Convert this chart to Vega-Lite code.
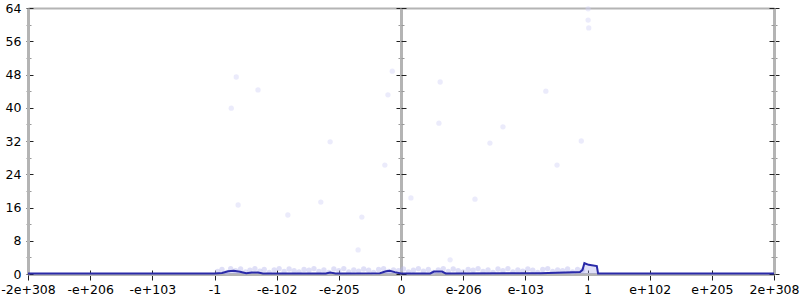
{
  "$schema": "https://vega.github.io/schema/vega-lite/v6.json",
  "width": 746,
  "height": 266,
  "autosize": {"type": "none"},
  "padding": {"left": 28, "top": 8, "right": 26, "bottom": 26},
  "background": "white",
  "config": {
    "view": {"stroke": null},
    "axis": {"labelFont": "DejaVu Sans", "labelFontSize": 12.5, "labelColor": "#000", "grid": false, "title": null, "domainColor": "#b4b4b4", "domainWidth": 3, "tickColor": "#222", "tickWidth": 1}
  },
  "datasets": {
    "line": [
      {"u": -6, "v": 0.15}, {"u": -3.0, "v": 0.15}, {"u": -2.88, "v": 0.25}, {"u": -2.78, "v": 0.65}, {"u": -2.69, "v": 0.8}, {"u": -2.59, "v": 0.55},
      {"u": -2.49, "v": 0.2}, {"u": -2.4, "v": 0.35}, {"u": -2.3, "v": 0.35}, {"u": -2.22, "v": 0.15}, {"u": -1.62, "v": 0.15}, {"u": -1.21, "v": 0.15},
      {"u": -1.14, "v": 0.35}, {"u": -1.05, "v": 0.15}, {"u": -0.34, "v": 0.2}, {"u": -0.24, "v": 0.65}, {"u": -0.18, "v": 0.8}, {"u": -0.1, "v": 0.45},
      {"u": 0, "v": 0.15}, {"u": 0.47, "v": 0.15}, {"u": 0.53, "v": 0.6}, {"u": 0.66, "v": 0.6}, {"u": 0.72, "v": 0.15}, {"u": 2.24, "v": 0.2},
      {"u": 2.88, "v": 0.5}, {"u": 2.92, "v": 1.0}, {"u": 2.95, "v": 2.6}, {"u": 3.02, "v": 2.2}, {"u": 3.15, "v": 1.9}, {"u": 3.17, "v": 0.15}, {"u": 6, "v": 0.15}
    ],
    "pts": [
      {"u": -2.65, "v": 47.4}, {"u": -2.3, "v": 44.3}, {"u": -2.73, "v": 39.9}, {"u": -1.14, "v": 31.8}, {"u": -0.26, "v": 26.2},
      {"u": -0.14, "v": 48.8}, {"u": -0.21, "v": 43.1}, {"u": -2.62, "v": 16.6}, {"u": -1.29, "v": 17.3}, {"u": -1.82, "v": 14.2},
      {"u": -0.63, "v": 13.7}, {"u": -0.69, "v": 5.8}, {"u": 3.01, "v": 63.8}, {"u": 3.01, "v": 61.1}, {"u": 3.02, "v": 59.2},
      {"u": 0.63, "v": 46.2}, {"u": 2.33, "v": 44.0}, {"u": 0.61, "v": 36.3}, {"u": 1.64, "v": 35.4}, {"u": 1.43, "v": 31.5},
      {"u": 2.9, "v": 32.0}, {"u": 2.51, "v": 26.2}, {"u": 0.16, "v": 18.3}, {"u": 1.19, "v": 18.0}, {"u": 0.79, "v": 3.4}
    ],
    "band": [
      {"u": -2.95, "v": 0.6}, {"u": -2.88, "v": 1.1}, {"u": -2.8, "v": 0.4}, {"u": -2.74, "v": 1.3}, {"u": -2.66, "v": 0.8}, {"u": -2.58, "v": 1.2},
      {"u": -2.5, "v": 0.5}, {"u": -2.43, "v": 0.9}, {"u": -2.35, "v": 1.3}, {"u": -2.27, "v": 0.7}, {"u": -2.2, "v": 1.1}, {"u": -2.12, "v": 0.4},
      {"u": -2.04, "v": 1.0}, {"u": -1.96, "v": 1.3}, {"u": -1.88, "v": 0.6}, {"u": -1.8, "v": 1.2}, {"u": -1.72, "v": 0.8}, {"u": -1.64, "v": 0.5},
      {"u": -1.56, "v": 1.1}, {"u": -1.48, "v": 0.9}, {"u": -1.4, "v": 1.3}, {"u": -1.32, "v": 0.6}, {"u": -1.24, "v": 1.0}, {"u": -1.16, "v": 0.4},
      {"u": -1.08, "v": 1.2}, {"u": -1.0, "v": 0.8}, {"u": -0.92, "v": 1.3}, {"u": -0.84, "v": 0.5}, {"u": -0.76, "v": 1.0}, {"u": -0.68, "v": 0.7},
      {"u": -0.6, "v": 1.2}, {"u": -0.52, "v": 0.9}, {"u": -0.44, "v": 0.4}, {"u": -0.36, "v": 1.1}, {"u": -0.28, "v": 1.3}, {"u": -0.2, "v": 0.6},
      {"u": -0.12, "v": 1.0}, {"u": -0.04, "v": 0.8}, {"u": 0.04, "v": 1.2}, {"u": 0.12, "v": 0.5}, {"u": 0.2, "v": 0.9}, {"u": 0.28, "v": 1.3},
      {"u": 0.36, "v": 0.7}, {"u": 0.44, "v": 1.1}, {"u": 0.52, "v": 0.4}, {"u": 0.6, "v": 1.0}, {"u": 0.68, "v": 1.3}, {"u": 0.76, "v": 0.6},
      {"u": 0.84, "v": 1.2}, {"u": 0.92, "v": 0.8}, {"u": 1.0, "v": 0.5}, {"u": 1.08, "v": 1.1}, {"u": 1.16, "v": 0.9}, {"u": 1.24, "v": 1.3},
      {"u": 1.32, "v": 0.6}, {"u": 1.4, "v": 1.0}, {"u": 1.48, "v": 0.4}, {"u": 1.56, "v": 1.2}, {"u": 1.64, "v": 0.8}, {"u": 1.72, "v": 1.3},
      {"u": 1.8, "v": 0.5}, {"u": 1.88, "v": 1.0}, {"u": 1.96, "v": 0.7}, {"u": 2.04, "v": 1.2}, {"u": 2.12, "v": 0.9}, {"u": 2.2, "v": 0.4},
      {"u": 2.28, "v": 1.1}, {"u": 2.36, "v": 1.3}, {"u": 2.44, "v": 0.6}, {"u": 2.52, "v": 1.0}, {"u": 2.6, "v": 0.8}, {"u": 2.68, "v": 1.2},
      {"u": 2.76, "v": 0.5}, {"u": 2.84, "v": 1.1}, {"u": 2.92, "v": 0.9}
    ]
  },
  "resolve": {"axis": {"x": "independent", "y": "independent"}},
  "layer": [
    {
      "data": {"name": "line"},
      "mark": {"type": "line", "opacity": 0},
      "encoding": {
        "x": {"field": "u", "type": "quantitative", "scale": {"domain": [-6, 6], "nice": false, "zero": false},
          "axis": {"orient": "top", "offset": 0, "ticks": false, "labels": false, "domainWidth": 2}},
        "y": {"field": "v", "type": "quantitative", "scale": {"domain": [0, 64], "nice": false},
          "axis": {"orient": "right", "offset": 0, "values": [0,4,8,12,16,20,24,28,32,36,40,44,48,52,56,60,64], "labels": false,
            "tickSize": {"condition": {"test": "datum.value % 8 === 0", "value": 5}, "value": 3},
            "tickColor": {"condition": {"test": "datum.value % 8 === 0", "value": "#222"}, "value": "#999"}}}
      }
    },
    {
      "data": {"name": "line"},
      "mark": {"type": "line", "opacity": 0},
      "encoding": {
        "x": {"field": "u", "type": "quantitative", "axis": null},
        "y": {"field": "v", "type": "quantitative",
          "axis": {"orient": "left", "offset": -746, "domain": false, "values": [0,4,8,12,16,20,24,28,32,36,40,44,48,52,56,60,64], "labels": false,
            "tickSize": {"condition": {"test": "datum.value % 8 === 0", "value": 5}, "value": 3},
            "tickColor": {"condition": {"test": "datum.value % 8 === 0", "value": "#222"}, "value": "#999"}}}
      }
    },
    {
      "data": {"name": "pts"},
      "mark": {"type": "circle", "size": 28, "color": "#d2d2f6", "opacity": 0.45},
      "encoding": {
        "x": {"field": "u", "type": "quantitative", "axis": null},
        "y": {"field": "v", "type": "quantitative",
          "axis": {"orient": "left", "offset": -373, "values": [0,4,8,12,16,20,24,28,32,36,40,44,48,52,56,60,64], "labels": false,
            "tickSize": {"condition": {"test": "datum.value % 8 === 0", "value": 5}, "value": 3},
            "tickColor": {"condition": {"test": "datum.value % 8 === 0", "value": "#222"}, "value": "#999"}}}
      }
    },
    {
      "data": {"name": "band"},
      "mark": {"type": "circle", "size": 28, "color": "#b8b8ee", "opacity": 0.45},
      "encoding": {
        "x": {"field": "u", "type": "quantitative", "axis": null},
        "y": {"field": "v", "type": "quantitative",
          "axis": {"orient": "right", "offset": -373, "domain": false, "values": [0,4,8,12,16,20,24,28,32,36,40,44,48,52,56,60,64], "labels": false,
            "tickSize": {"condition": {"test": "datum.value % 8 === 0", "value": 5}, "value": 3},
            "tickColor": {"condition": {"test": "datum.value % 8 === 0", "value": "#222"}, "value": "#999"}}}
      }
    },
    {
      "data": {"name": "line"},
      "mark": {"type": "area", "color": "#a8a8e8", "opacity": 0.35},
      "encoding": {
        "x": {"field": "u", "type": "quantitative",
          "axis": {"orient": "top", "offset": -266, "domain": false, "labels": false, "tickSize": 4, "values": [-6,-5,-4,-3,-2,-1,0,1,2,3,4,5,6]}},
        "y": {"field": "v", "type": "quantitative",
          "axis": {"orient": "right", "offset": -746, "domain": false, "values": [0,4,8,12,16,20,24,28,32,36,40,44,48,52,56,60,64], "labels": false,
            "tickSize": {"condition": {"test": "datum.value % 8 === 0", "value": 5}, "value": 3},
            "tickColor": {"condition": {"test": "datum.value % 8 === 0", "value": "#222"}, "value": "#999"}}}
      }
    },
    {
      "data": {"name": "line"},
      "mark": {"type": "line", "color": "#2a2aa8", "strokeWidth": 2},
      "encoding": {
        "x": {"field": "u", "type": "quantitative",
          "axis": {"orient": "bottom", "offset": 0, "values": [-6,-5,-4,-3,-2,-1,0,1,2,3,4,5,6], "tickSize": 6, "labelPadding": 3,
            "labelFlush": false, "labelOverlap": false,
            "labelExpr": "['-2e+308','-e+206','-e+103','-1','-e-102','-e-205','0','e-206','e-103','1','e+102','e+205','2e+308'][round(datum.value)+6]"}},
        "y": {"field": "v", "type": "quantitative",
          "axis": {"orient": "left", "offset": 0, "values": [0,4,8,12,16,20,24,28,32,36,40,44,48,52,56,60,64], "labelPadding": 5,
            "labelExpr": "datum.value % 8 === 0 ? datum.label : ''",
            "tickSize": 2,
            "tickColor": {"condition": {"test": "datum.value % 8 === 0", "value": "#222"}, "value": "#999"}}}
      }
    }
  ]
}
